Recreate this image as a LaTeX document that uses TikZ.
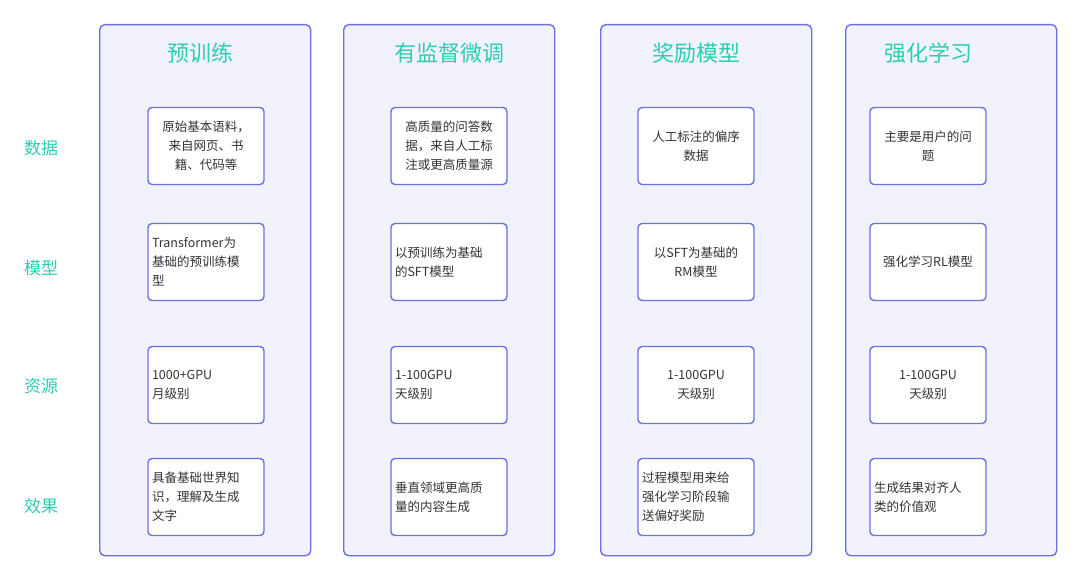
\documentclass[tikz,border=0pt]{standalone}
\usepackage{fontspec}
\setmainfont{Noto Sans CJK SC}
\definecolor{bd}{HTML}{6B6FE0}
\definecolor{fl}{HTML}{F2F2FD}
\definecolor{tl}{HTML}{2CCDB0}
\definecolor{tx}{HTML}{333333}
\begin{document}
\begin{tikzpicture}[x=1pt,y=-1pt,
 col/.style={draw=bd,fill=fl,line width=1.4pt,rounded corners=5pt,minimum width=211pt,minimum height=531pt,anchor=north west,inner sep=0pt},
 cell/.style={draw=bd,fill=white,line width=1.4pt,rounded corners=4pt,minimum width=116pt,minimum height=77pt,font=\fontsize{12.5}{19}\selectfont,text=tx,inner sep=4pt,text width=108pt},
 ttl/.style={text=tl,font=\fontsize{22}{26}\selectfont},
 rl/.style={text=tl,font=\fontsize{17}{20}\selectfont}]
\useasboundingbox (0,0) rectangle (1080,580);
\node[col] (c1) at (99,24) {};
\node[col] (c2) at (343,24) {};
\node[col] (c3) at (600,24) {};
\node[col] (c4) at (845,24) {};
\node[ttl] (t1) at (200,53) {预训练};
\node[ttl] (t2) at (449,53) {有监督微调};
\node[ttl] (t3) at (696,53) {奖励模型};
\node[ttl] (t4) at (928,53) {强化学习};
\node[rl] (r1) at (41,148) {数据};
\node[rl] (r2) at (41,268) {模型};
\node[rl] (r3) at (41,386) {资源};
\node[rl] (r4) at (41,506) {效果};
% column 1
\node[cell,align=center] (a1) at (206,146) {原始基本语料，\\来自网页、书\\籍、代码等};
\node[cell,align=left] (a2) at (206,262) {Transformer为\\基础的预训练模\\型};
\node[cell,align=left] (a3) at (206,385) {1000+GPU\\月级别};
\node[cell,align=left] (a4) at (206,497) {具备基础世界知\\识，理解及生成\\文字};
% column 2
\node[cell,align=center] (b1) at (449,146) {高质量的问答数\\据，来自人工标\\注或更高质量源};
\node[cell,align=left] (b2) at (449,262) {以预训练为基础\\的SFT模型};
\node[cell,align=left] (b3) at (449,385) {1-100GPU\\天级别};
\node[cell,align=left] (b4) at (449,497) {垂直领域更高质\\量的内容生成};
% column 3
\node[cell,align=center] (d1) at (696,146) {人工标注的偏序\\数据};
\node[cell,align=center] (d2) at (696,262) {以SFT为基础的\\RM模型};
\node[cell,align=center] (d3) at (696,385) {1-100GPU\\天级别};
\node[cell,align=left] (d4) at (696,497) {过程模型用来给\\强化学习阶段输\\送偏好奖励};
% column 4
\node[cell,align=center] (e1) at (928,146) {主要是用户的问\\题};
\node[cell,align=center] (e2) at (928,262) {强化学习RL模型};
\node[cell,align=center] (e3) at (928,385) {1-100GPU\\天级别};
\node[cell,align=left] (e4) at (928,497) {生成结果对齐人\\类的价值观};
\end{tikzpicture}
\end{document}
